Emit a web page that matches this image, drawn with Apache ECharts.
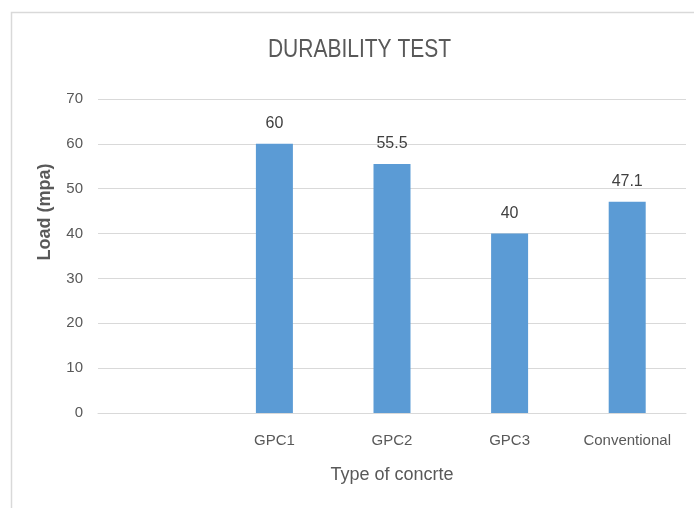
<!DOCTYPE html>
<html><head><meta charset="utf-8">
<script src="https://cdn.jsdelivr.net/npm/echarts@6/dist/echarts.min.js"></script>
<style>html,body{margin:0;padding:0;background:#fff}#c{width:694px;height:508px}</style>
</head><body><div id="c"></div>
<script>
const categories = ['', 'GPC1', 'GPC2', 'GPC3', 'Conventional'];
const loadValues = [null, 60, 55.5, 40, 47.1];
const yTicks = [0, 10, 20, 30, 40, 50, 60, 70];

const chart = echarts.init(document.getElementById('c'), null, {renderer: 'canvas'});
const font = '"Liberation Sans", Arial, sans-serif';
chart.setOption({
  animation: false,
  graphic: [{
    type: 'rect',
    shape: {x: 11.5, y: 12.5, width: 700, height: 510},
    style: {fill: 'none', stroke: '#D9D9D9', lineWidth: 1.5},
    silent: true, z: -1
  }, {
    type: 'text', x: 359.5, y: 50, scaleY: 1.25,
    style: {text: 'DURABILITY TEST', fontFamily: font, fontSize: 21, fill: '#595959',
      align: 'center', verticalAlign: 'middle'},
    silent: true
  }, {
    type: 'text', x: 45, y: 212, rotation: Math.PI / 2,
    style: {text: 'Load (mpa)', fontFamily: font, fontSize: 18, fontWeight: 'bold', fill: '#595959',
      align: 'center', verticalAlign: 'middle'},
    silent: true
  }],
  grid: {left: 98, right: 8, top: 99, bottom: 95, containLabel: false},
  xAxis: {
    type: 'category', data: categories,
    axisLine: {lineStyle: {color: '#D9D9D9', width: 1}},
    axisTick: {show: false},
    axisLabel: {fontFamily: font, fontSize: 15, color: '#595959', margin: 20},
    name: 'Type of concrte', nameLocation: 'middle', nameGap: 53,
    nameTextStyle: {fontFamily: font, fontSize: 18, color: '#595959'}
  },
  yAxis: {
    type: 'value', min: yTicks[0], max: yTicks[yTicks.length - 1], interval: 10,
    axisLine: {show: false}, axisTick: {show: false},
    splitLine: {lineStyle: {color: '#D9D9D9', width: 1}},
    axisLabel: {fontFamily: font, fontSize: 15, color: '#595959', margin: 15}
  },
  series: [{
    type: 'bar', data: loadValues, barWidth: 37,
    itemStyle: {color: '#5B9BD5'},
    label: {show: true, position: 'top', distance: 12, fontFamily: font, fontSize: 16, color: '#404040'}
  }]
});
</script></body></html>
